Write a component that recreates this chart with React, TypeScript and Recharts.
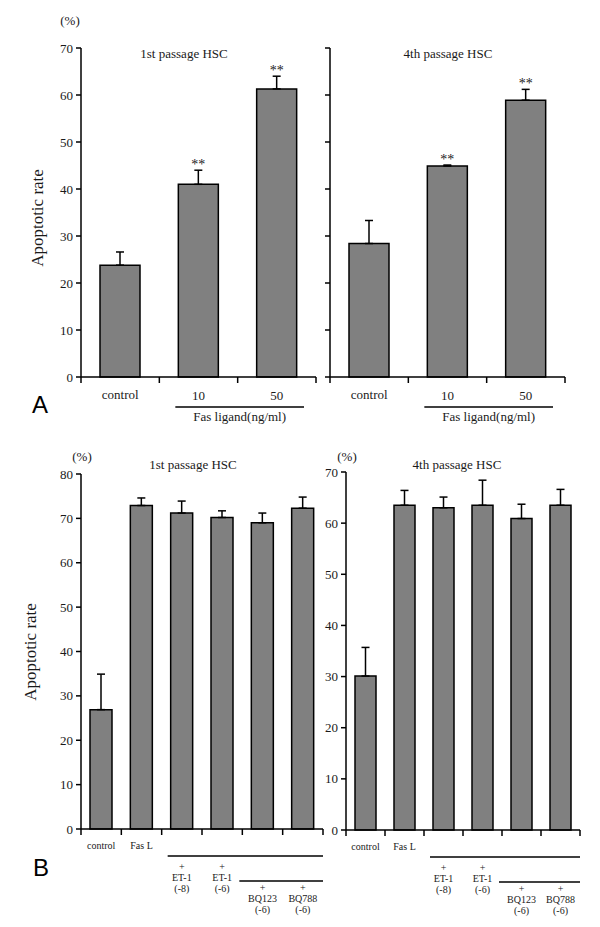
import { BarChart, Bar, XAxis, YAxis, ErrorBar, LabelList } from "recharts";

const SERIF = "'Liberation Serif', 'Times New Roman', serif";
const SANS = "'Liberation Sans', Arial, sans-serif";
const INK = "#1a1a1a";

// panel A: Fas ligand dose
const topCategories = ["control", "10", "50"];
const topTickLines = [["control"], ["10"], ["50"]];
const topTickStarts = [22, 23, 23];

const p1TopValues = [23.8, 41.0, 61.3];
const p1TopErrors = [2.8, 3.0, 2.7];
const p1TopStars = ["", "**", "**"];

const p4TopValues = [28.4, 44.9, 58.9];
const p4TopErrors = [4.9, 0.2, 2.3];
const p4TopStars = ["", "**", "**"];

const topYTicks = [0, 10, 20, 30, 40, 50, 60, 70];

// panel B: ET-1 / antagonists
const bottomCategories = ["control", "Fas L", "ET-1 (-8)", "ET-1 (-6)", "BQ123 (-6)", "BQ788 (-6)"];
const bottomTickLines = [
  ["control"],
  ["Fas L"],
  ["+", "ET-1", "(-8)"],
  ["+", "ET-1", "(-6)"],
  ["+", "BQ123", "(-6)"],
  ["+", "BQ788", "(-6)"],
];
const bottomTickStarts = [20, 20, 41, 41, 62, 62];

const p1BottomValues = [26.9, 72.9, 71.2, 70.2, 69.0, 72.3];
const p1BottomErrors = [8.0, 1.7, 2.7, 1.5, 2.2, 2.5];

const p4BottomValues = [30.1, 63.5, 63.0, 63.5, 60.9, 63.5];
const p4BottomErrors = [5.6, 2.9, 2.1, 4.9, 2.8, 3.1];

const b1YTicks = [0, 10, 20, 30, 40, 50, 60, 70, 80];
const b4YTicks = [0, 10, 20, 30, 40, 50, 60, 70];

type Row = { name: string; value: number; err: [number, number]; star: string };

function makeRows(names: string[], values: number[], errors: number[], stars?: string[]): Row[] {
  return names.map((name, i) => ({
    name,
    value: values[i],
    err: [0, errors[i]],
    star: stars ? stars[i] : "",
  }));
}

type Group = {
  from: number;
  to: number;
  dy: number;
  insetStart: number;
  insetEnd: number;
  label?: string;
  labelDy?: number;
};

type TickSpec = {
  lines: string[][];
  starts: number[];
  gap: number;
  fontSize: number;
  groups: Group[];
};

const topSpec: TickSpec = {
  lines: topTickLines,
  starts: topTickStarts,
  gap: 13,
  fontSize: 13,
  groups: [{ from: 1, to: 2, dy: 30, insetStart: 16, insetEnd: 12, label: "Fas ligand(ng/ml)", labelDy: 44 }],
};

const bottomSpec: TickSpec = {
  lines: bottomTickLines,
  starts: bottomTickStarts,
  gap: 11,
  fontSize: 10,
  groups: [
    { from: 2, to: 5, dy: 27, insetStart: 6, insetEnd: 0 },
    { from: 4, to: 5, dy: 52, insetStart: -3, insetEnd: 0 },
  ],
};

function CategoryTick(props: any) {
  const { x, y, payload, index, visibleTicksCount, width, spec } = props;
  const count = visibleTicksCount || spec.lines.length;
  const half = payload && payload.offset > 0 ? payload.offset : width / count / 2;
  const left = x - half;
  const lines: string[] = spec.lines[index] || [];
  return (
    <g>
      <line x1={left} y1={y} x2={left} y2={y + 6} stroke="#000" strokeWidth={1.5} />
      {index === count - 1 && (
        <line x1={x + half} y1={y} x2={x + half} y2={y + 6} stroke="#000" strokeWidth={1.5} />
      )}
      {lines.map((t, i) => (
        <text
          key={i}
          x={x}
          y={y + spec.starts[index] + i * spec.gap}
          textAnchor="middle"
          fontSize={spec.fontSize}
          fontFamily={SERIF}
          fill={INK}
        >
          {t}
        </text>
      ))}
      {spec.groups
        .filter((g: Group) => g.from === index)
        .map((g: Group, i: number) => {
          const x1 = left + g.insetStart;
          const x2 = left + (g.to - g.from + 1) * 2 * half - g.insetEnd;
          return (
            <g key={i}>
              <line x1={x1} x2={x2} y1={y + g.dy} y2={y + g.dy} stroke="#000" strokeWidth={1.5} />
              {g.label && (
                <text
                  x={(x1 + x2) / 2}
                  y={y + (g.labelDy || 0)}
                  textAnchor="middle"
                  fontSize={13}
                  fontFamily={SERIF}
                  fill={INK}
                >
                  {g.label}
                </text>
              )}
            </g>
          );
        })}
    </g>
  );
}

function StarLabel(props: any) {
  const { index, rows } = props;
  const box = props.viewBox && props.viewBox.width != null ? props.viewBox : props;
  const row: Row | undefined = rows[index];
  if (!row || !row.star) return null;
  const h = Math.abs(box.height);
  const topY = Math.min(box.y, box.y + box.height);
  const errTop = topY - row.err[1] * (h / row.value);
  return (
    <text
      x={box.x + box.width / 2}
      y={errTop - 1}
      textAnchor="middle"
      fontSize={14}
      fontFamily={SERIF}
      fill={INK}
    >
      {row.star}
    </text>
  );
}

type PanelProps = {
  left: number;
  top: number;
  width: number;
  height: number;
  margin: { top: number; right: number; bottom: number; left: number };
  rows: Row[];
  yTicks: number[];
  yAxisWidth: number;
  showYLabels: boolean;
  barSize: number;
  xHeight: number;
  spec: TickSpec;
};

function Panel(p: PanelProps) {
  const yMax = p.yTicks[p.yTicks.length - 1];
  return (
    <div style={{ position: "absolute", left: p.left, top: p.top }}>
      <BarChart width={p.width} height={p.height} data={p.rows} margin={p.margin}>
        <XAxis
          dataKey="name"
          type="category"
          interval={0}
          height={p.xHeight}
          axisLine={{ stroke: "#000", strokeWidth: 1.5 }}
          tickLine={false}
          tickSize={0}
          tickMargin={0}
          tick={(tp: any) => <CategoryTick {...tp} spec={p.spec} />}
        />
        <YAxis
          type="number"
          domain={[0, yMax]}
          ticks={p.yTicks}
          interval={0}
          width={p.yAxisWidth}
          axisLine={{ stroke: "#000", strokeWidth: 1.5 }}
          tickLine={{ stroke: "#000", strokeWidth: 1.5 }}
          tickSize={5}
          tickMargin={3}
          tick={{ fontSize: 13, fontFamily: SERIF, fill: INK }}
          tickFormatter={p.showYLabels ? undefined : () => ""}
        />
        <Bar
          dataKey="value"
          fill="#808080"
          stroke="#000"
          strokeWidth={1.5}
          barSize={p.barSize}
          isAnimationActive={false}
        >
          <ErrorBar dataKey="err" direction="y" width={4} stroke="#000" strokeWidth={1.5} />
          <LabelList dataKey="star" content={(lp: any) => <StarLabel {...lp} rows={p.rows} />} />
        </Bar>
      </BarChart>
    </div>
  );
}

export default function App() {
  const textStyle = { fontFamily: SERIF, fill: INK };
  return (
    <div
      style={{
        position: "absolute",
        left: 0,
        top: 0,
        width: 600,
        height: 927,
        background: "#fff",
        overflow: "hidden",
      }}
    >
      <Panel
        left={0}
        top={0}
        width={320}
        height={440}
        margin={{ top: 48, right: 4, bottom: 3, left: 31 }}
        rows={makeRows(topCategories, p1TopValues, p1TopErrors, p1TopStars)}
        yTicks={topYTicks}
        yAxisWidth={50}
        showYLabels
        barSize={40}
        xHeight={60}
        spec={topSpec}
      />
      <Panel
        left={320}
        top={0}
        width={260}
        height={440}
        margin={{ top: 48, right: 15, bottom: 3, left: 0 }}
        rows={makeRows(topCategories, p4TopValues, p4TopErrors, p4TopStars)}
        yTicks={topYTicks}
        yAxisWidth={10}
        showYLabels={false}
        barSize={40}
        xHeight={60}
        spec={topSpec}
      />
      <Panel
        left={0}
        top={440}
        width={326}
        height={487}
        margin={{ top: 34, right: 3, bottom: 3, left: 31 }}
        rows={makeRows(bottomCategories, p1BottomValues, p1BottomErrors)}
        yTicks={b1YTicks}
        yAxisWidth={50}
        showYLabels
        barSize={22}
        xHeight={95}
        spec={bottomSpec}
      />
      <Panel
        left={300}
        top={440}
        width={300}
        height={487}
        margin={{ top: 32, right: 20, bottom: 3, left: 0 }}
        rows={makeRows(bottomCategories, p4BottomValues, p4BottomErrors)}
        yTicks={b4YTicks}
        yAxisWidth={46}
        showYLabels
        barSize={21}
        xHeight={94}
        spec={bottomSpec}
      />
      <svg
        width={600}
        height={927}
        style={{ position: "absolute", left: 0, top: 0, pointerEvents: "none" }}
      >
        <text x={70} y={25} textAnchor="middle" fontSize={13} {...textStyle}>(%)</text>
        <text x={184} y={58} textAnchor="middle" fontSize={13} {...textStyle}>1st passage HSC</text>
        <text x={448} y={58} textAnchor="middle" fontSize={13} {...textStyle}>4th passage HSC</text>
        <text
          x={37}
          y={218}
          textAnchor="middle"
          dominantBaseline="central"
          fontSize={17}
          transform="rotate(-90 37 218)"
          {...textStyle}
        >
          Apoptotic rate
        </text>
        <text x={40} y={413} textAnchor="middle" fontSize={24} fontFamily={SANS} fill="#000">A</text>

        <text x={82} y={461} textAnchor="middle" fontSize={13} {...textStyle}>(%)</text>
        <text x={193} y={469} textAnchor="middle" fontSize={13} {...textStyle}>1st passage HSC</text>
        <text x={347} y={461} textAnchor="middle" fontSize={13} {...textStyle}>(%)</text>
        <text x={457} y={469} textAnchor="middle" fontSize={13} {...textStyle}>4th passage HSC</text>
        <text
          x={30}
          y={652}
          textAnchor="middle"
          dominantBaseline="central"
          fontSize={17}
          transform="rotate(-90 30 652)"
          {...textStyle}
        >
          Apoptotic rate
        </text>
        <text x={41} y={876} textAnchor="middle" fontSize={24} fontFamily={SANS} fill="#000">B</text>
      </svg>
    </div>
  );
}
